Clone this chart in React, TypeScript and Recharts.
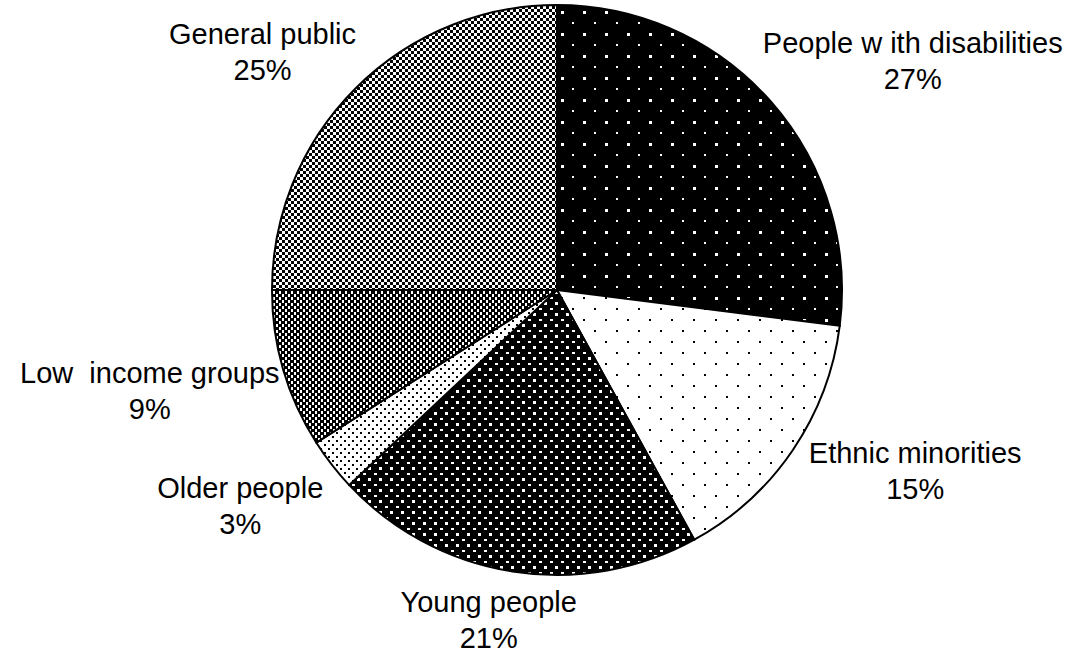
import React from "react";
import { PieChart, Pie, Cell } from "recharts";

const categories = [
	"People w ith disabilities",
	"Ethnic minorities",
	"Young people",
	"Older people",
	"Low  income groups",
	"General public",
];
const shares = [27, 15, 21, 3, 9, 25];
const fills = ["url(#pwd)", "url(#eth)", "url(#young)", "url(#older)", "url(#low)", "url(#gen)"];

// small hand nudges so the labels sit where the original placed them
const labelNudge = [
	[-9, -4],
	[4, -10],
	[-7, -6],
	[-7, 8],
	[11, 6],
	[-7, 2],
];

const data = categories.map((name, i) => ({ name, value: shares[i] }));

const RADIAN = Math.PI / 180;
const FONT = 29;

const renderLabel = (props: any) => {
	const { cx, cy, midAngle, outerRadius, name, value, index } = props;
	const r = outerRadius + 20;
	const dx = Math.cos(-midAngle * RADIAN);
	const dy = Math.sin(-midAngle * RADIAN);
	const px = cx + r * dx;
	const py = cy + r * dy;
	const w = name.length * FONT * 0.5;
	const h = 70;
	const [nx, ny] = labelNudge[index] || [0, 0];
	const x = px + (w / 2) * dx + nx;
	const y = py + (h / 2) * dy + ny;
	return (
		<text
			x={x}
			y={y}
			textAnchor="middle"
			fill="#000"
			style={{ fontFamily: "'Liberation Sans', Arial, sans-serif", fontSize: FONT, whiteSpace: "pre" }}
		>
			<tspan x={x} y={y - 18} dominantBaseline="central">
				{name}
			</tspan>
			<tspan x={x} y={y + 18} dominantBaseline="central">
				{value}%
			</tspan>
		</text>
	);
};

export default function App() {
	return (
		<div style={{ position: "absolute", left: 0, top: 0, background: "#fff" }}>
			<PieChart width={1077} height={653} margin={{ top: 0, right: 0, bottom: 0, left: 0 }}>
				<defs>
					<pattern id="pwd" width="22" height="22" patternUnits="userSpaceOnUse">
						<rect width="22" height="22" fill="#000" />
						<rect x="0" y="0" width="2" height="2" fill="#fff" shapeRendering="crispEdges" />
						<rect x="11" y="11" width="3" height="3" fill="#fff" shapeRendering="crispEdges" />
					</pattern>
					<pattern id="eth" width="22" height="22" patternUnits="userSpaceOnUse">
						<rect width="22" height="22" fill="#fff" />
						<rect x="0" y="0" width="2" height="2" fill="#000" shapeRendering="crispEdges" />
						<rect x="11" y="11" width="2" height="2" fill="#000" shapeRendering="crispEdges" />
					</pattern>
					<pattern id="young" width="11" height="11" patternUnits="userSpaceOnUse">
						<rect width="11" height="11" fill="#000" />
						<rect x="0" y="0" width="3" height="2" fill="#fff" shapeRendering="crispEdges" />
						<rect x="5" y="5" width="3" height="3" fill="#fff" shapeRendering="crispEdges" />
					</pattern>
					<pattern id="older" width="8" height="8" patternUnits="userSpaceOnUse">
						<rect width="8" height="8" fill="#fff" />
						<rect x="0" y="0" width="2" height="2" fill="#000" shapeRendering="crispEdges" />
						<rect x="4" y="4" width="2" height="2" fill="#000" shapeRendering="crispEdges" />
					</pattern>
					<pattern id="low" width="6" height="6" patternUnits="userSpaceOnUse">
						<rect width="6" height="6" fill="#000" />
						<rect x="0" y="0" width="2" height="3" fill="#fff" shapeRendering="crispEdges" />
						<rect x="3" y="3" width="2" height="3" fill="#fff" shapeRendering="crispEdges" />
					</pattern>
					<pattern id="gen" width="6" height="6" patternUnits="userSpaceOnUse">
						<rect width="6" height="6" fill="#fff" />
						<rect x="0" y="0" width="3" height="3" fill="#000" shapeRendering="crispEdges" />
						<rect x="3" y="3" width="3" height="3" fill="#000" shapeRendering="crispEdges" />
					</pattern>
				</defs>
				<Pie
					data={data}
					dataKey="value"
					nameKey="name"
					cx={557}
					cy={290}
					outerRadius={285}
					startAngle={90}
					endAngle={-270}
					stroke="#000"
					strokeWidth={2}
					label={renderLabel}
					labelLine={false}
					isAnimationActive={false}
				>
					{data.map((d, i) => (
						<Cell key={d.name} fill={fills[i]} />
					))}
				</Pie>
			</PieChart>
		</div>
	);
}
